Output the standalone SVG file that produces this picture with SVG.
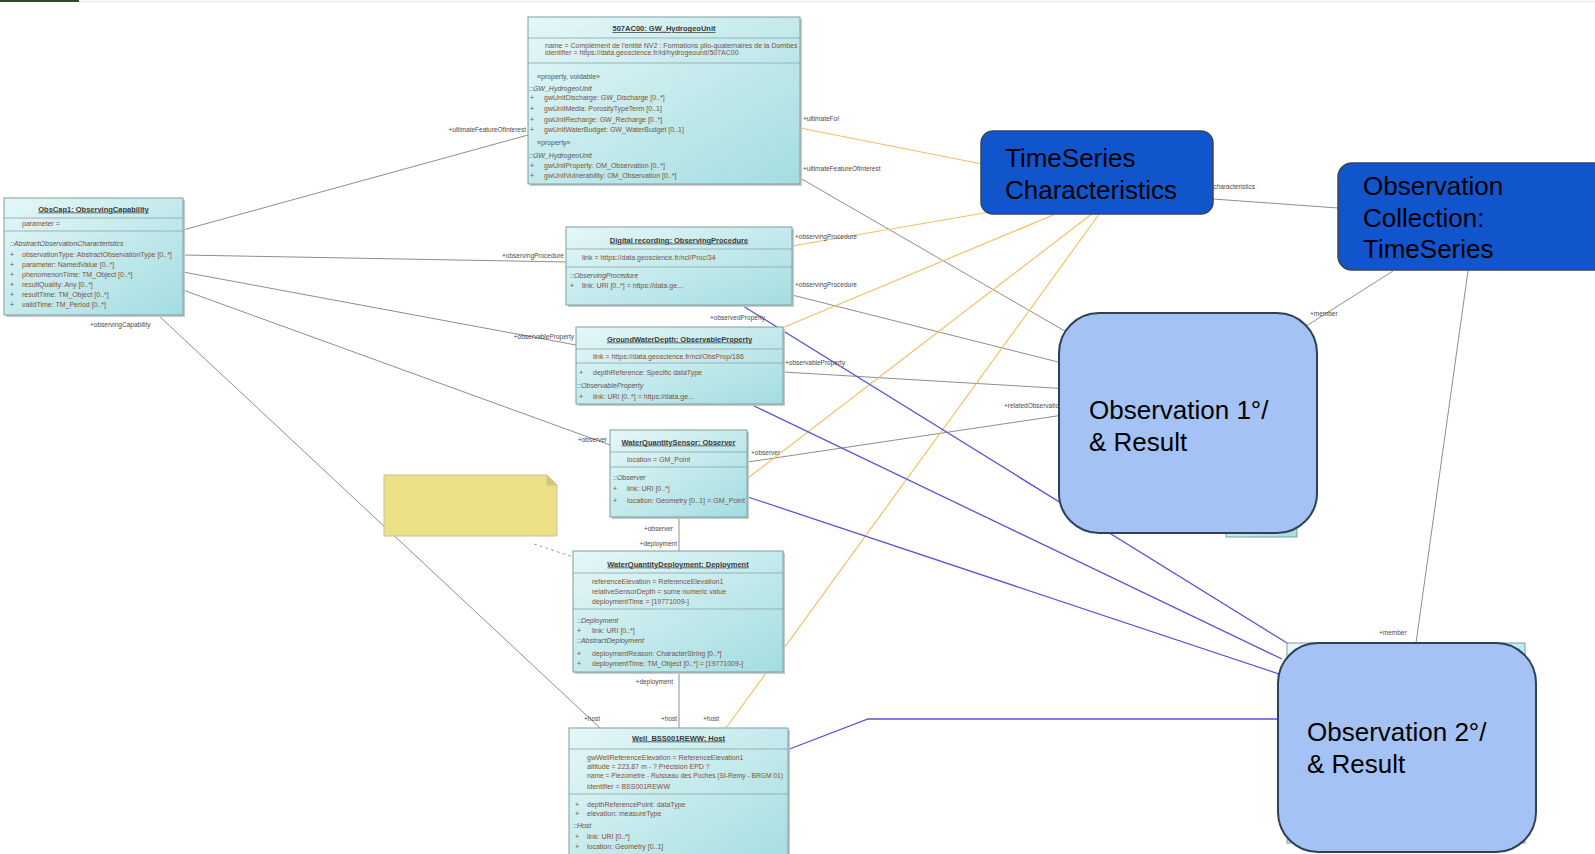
<svg xmlns="http://www.w3.org/2000/svg" width="1595" height="854" viewBox="0 0 1595 854">
<defs>
<linearGradient id="cy" x1="0" y1="0" x2="1" y2="1">
<stop offset="0" stop-color="#e6f7f8"/>
<stop offset="1" stop-color="#a3dde1"/>
</linearGradient>
<style>
.box{fill:url(#cy);stroke:#7f9ea0;stroke-width:1}
.sh{fill:#c4c9c9}
.sep{stroke:#8aa5a7;stroke-width:0.8}
text{font-family:"Liberation Sans",Arial,sans-serif}
.t{font-size:7.5px;font-weight:bold;fill:#3a3a3a;text-decoration:underline;text-anchor:middle}
.a{font-size:7px;fill:#7d5240}
.i{font-size:7px;fill:#555;font-style:italic}
.s{font-size:7px;fill:#555}
.l{font-size:6.5px;fill:#4a4a4a}
.e{text-anchor:end}
.g{stroke:#8e8e8e;stroke-width:1;fill:none}
.o{stroke:#f5c062;stroke-width:1.2;fill:none}
.b{stroke:#5656d8;stroke-width:1.3;fill:none}
.dk{fill:#1155cc;stroke:#34475f;stroke-width:1.5}
.lt{fill:#a4c2f4;stroke:#2f4058;stroke-width:2}
.big{font-size:26px;fill:#000}
</style>
</defs>
<rect width="1595" height="854" fill="#ffffff"/>
<rect x="0" y="0" width="79" height="2" fill="#2f4a2a"/>
<line x1="79" y1="1.5" x2="1595" y2="1.5" stroke="#ececec" stroke-width="1.5"/>

<g id="connectors">
<line class="g" x1="183" y1="230" x2="528" y2="135"/>
<line class="g" x1="183" y1="255" x2="566" y2="262"/>
<line class="g" x1="183" y1="272" x2="576" y2="345"/>
<line class="g" x1="183" y1="290" x2="610" y2="445"/>
<line class="g" x1="158" y1="315" x2="600" y2="728"/>
<line class="g" x1="679" y1="517" x2="679" y2="551"/>
<line class="g" x1="679" y1="672" x2="679" y2="728"/>
<line x1="534" y1="544" x2="573" y2="557" stroke="#a0a0a0" stroke-width="1" stroke-dasharray="3,3"/>
<line class="g" x1="800" y1="178" x2="1070" y2="334"/>
<line class="g" x1="792" y1="295" x2="1070" y2="365"/>
<line class="g" x1="783" y1="372" x2="1070" y2="389"/>
<line class="g" x1="748" y1="462" x2="1070" y2="414"/>
<line class="g" x1="1213" y1="199" x2="1338" y2="208"/>
<line class="g" x1="1393" y1="271" x2="1300" y2="330"/>
<line class="g" x1="1468" y1="271" x2="1416" y2="643"/>
<line class="o" x1="800" y1="128" x2="982" y2="164"/>
<line class="o" x1="792" y1="246" x2="990" y2="212"/>
<line class="o" x1="782" y1="328" x2="1058" y2="213"/>
<line class="o" x1="748" y1="478" x2="1093" y2="213"/>
<line class="o" x1="726" y1="728" x2="1100" y2="213"/>
<line class="b" x1="743" y1="306" x2="1287" y2="643"/>
<line class="b" x1="752" y1="405" x2="1282" y2="659"/>
<line class="b" x1="748" y1="497" x2="1279" y2="674"/>
<polyline class="b" points="787,750 868,719 1280,719"/>
<text class="l e" x="526" y="132">+ultimateFeatureOfInterest</text>
<text class="l e" x="564" y="258">+observingProcedure</text>
<text class="l e" x="574" y="339">+observableProperty</text>
<text class="l e" x="607" y="442">+observer</text>
<text class="l" x="90" y="327">+observingCapability</text>
<text class="l" x="584" y="721">+host</text>
<text class="l e" x="673" y="531">+observer</text>
<text class="l e" x="677" y="546">+deployment</text>
<text class="l e" x="673" y="684">+deployment</text>
<text class="l e" x="677" y="721">+host</text>
<text class="l" x="703" y="721">+host</text>
<text class="l" x="803" y="121">+ultimateFoI</text>
<text class="l" x="803" y="171">+ultimateFeatureOfInterest</text>
<text class="l" x="795" y="239">+observingProcedure</text>
<text class="l" x="795" y="287">+observingProcedure</text>
<text class="l" x="785" y="365">+observableProperty</text>
<text class="l" x="751" y="455">+observer</text>
<text class="l" x="1004" y="408">+relatedObservation</text>
<text class="l" x="710" y="320">+observedProperty</text>
<text class="l e" x="1255" y="189">+characteristics</text>
<text class="l" x="1310" y="316">+member</text>
<text class="l" x="1379" y="635">+member</text>
</g>

<g id="hydrogeoUnit">
<rect class="sh" x="530" y="19" width="272" height="167"/>
<rect class="box" x="528" y="17" width="272" height="167"/>
<line class="sep" x1="528" y1="38" x2="800" y2="38"/>
<line class="sep" x1="528" y1="63" x2="800" y2="63"/>
<text class="t" x="664" y="31">507AC00: GW_HydrogeoUnit</text>
<text class="a" x="545" y="47.5">name = Complément de l'entité NV2 : Formations plio-quaternaires de la Dombes</text>
<text class="a" x="545" y="55">identifier = https://data.geoscience.fr/id/hydrogeounit/507AC00</text>
<text class="s" x="537" y="78.5">«property, voidable»</text>
<text class="i" x="529" y="90.5">::GW_HydrogeoUnit</text>
<text class="s" x="530" y="100">+</text><text class="a" x="544" y="100">gwUnitDischarge: GW_Discharge [0..*]</text>
<text class="s" x="530" y="111">+</text><text class="a" x="544" y="111">gwUnitMedia: PorosityTypeTerm [0..1]</text>
<text class="s" x="530" y="122">+</text><text class="a" x="544" y="122">gwUnitRecharge: GW_Recharge [0..*]</text>
<text class="s" x="530" y="132">+</text><text class="a" x="544" y="132">gwUnitWaterBudget: GW_WaterBudget [0..1]</text>
<text class="s" x="537" y="145">«property»</text>
<text class="i" x="529" y="157.5">::GW_HydrogeoUnit</text>
<text class="s" x="530" y="167.5">+</text><text class="a" x="544" y="167.5">gwUnitProperty: OM_Observation [0..*]</text>
<text class="s" x="530" y="177.5">+</text><text class="a" x="544" y="177.5">gwUnitVulnerability: OM_Observation [0..*]</text>
</g>

<g id="obsCap1">
<rect class="sh" x="6" y="200" width="179" height="117"/>
<rect class="box" x="4" y="198" width="179" height="117"/>
<line class="sep" x1="4" y1="218" x2="183" y2="218"/>
<line class="sep" x1="4" y1="231" x2="183" y2="231"/>
<text class="t" x="93.5" y="211.5">ObsCap1: ObservingCapability</text>
<text class="a" x="22" y="225.5">parameter =</text>
<text class="i" x="10" y="245.5">::AbstractObservationCharacteristics</text>
<text class="s" x="10" y="256.5">+</text><text class="a" x="22" y="256.5">observationType: AbstractObservationType [0..*]</text>
<text class="s" x="10" y="266.5">+</text><text class="a" x="22" y="266.5">parameter: NamedValue [0..*]</text>
<text class="s" x="10" y="276.5">+</text><text class="a" x="22" y="276.5">phenomenonTime: TM_Object [0..*]</text>
<text class="s" x="10" y="286.5">+</text><text class="a" x="22" y="286.5">resultQuality: Any [0..*]</text>
<text class="s" x="10" y="296.5">+</text><text class="a" x="22" y="296.5">resultTime: TM_Object [0..*]</text>
<text class="s" x="10" y="307">+</text><text class="a" x="22" y="307">validTime: TM_Period [0..*]</text>
</g>

<g id="digitalRecording">
<rect class="sh" x="568" y="229" width="226" height="78"/>
<rect class="box" x="566" y="227" width="226" height="78"/>
<line class="sep" x1="566" y1="249" x2="792" y2="249"/>
<line class="sep" x1="566" y1="267" x2="792" y2="267"/>
<text class="t" x="679" y="242.5">Digital recording: ObservingProcedure</text>
<text class="a" x="582" y="259.5">link = https://data.geoscience.fr/ncl/Proc/34</text>
<text class="i" x="570" y="277.5">::ObservingProcedure</text>
<text class="s" x="570" y="287.5">+</text><text class="a" x="582" y="287.5">link: URI [0..*] = https://data.ge...</text>
</g>

<g id="groundWaterDepth">
<rect class="sh" x="578" y="329" width="207" height="77"/>
<rect class="box" x="576" y="327" width="207" height="77"/>
<line class="sep" x1="576" y1="349" x2="783" y2="349"/>
<line class="sep" x1="576" y1="363" x2="783" y2="363"/>
<text class="t" x="679.5" y="341.5">GroundWaterDepth: ObservableProperty</text>
<text class="a" x="593" y="358.5">link = https://data.geoscience.fr/ncl/ObsProp/186</text>
<text class="s" x="579" y="374.5">+</text><text class="a" x="593" y="374.5">depthReference: Specific dataType</text>
<text class="i" x="577" y="387.5">::ObservableProperty</text>
<text class="s" x="579" y="398.5">+</text><text class="a" x="593" y="398.5">link: URI [0..*] = https://data.ge...</text>
</g>

<g id="sensor">
<rect class="sh" x="612" y="432" width="137" height="87"/>
<rect class="box" x="610" y="430" width="137" height="87"/>
<line class="sep" x1="610" y1="452" x2="747" y2="452"/>
<line class="sep" x1="610" y1="467" x2="747" y2="467"/>
<text class="t" x="678.5" y="444.5">WaterQuantitySensor: Observer</text>
<text class="a" x="627" y="461.5">location = GM_Point</text>
<text class="i" x="613" y="479.5">::Observer</text>
<text class="s" x="613" y="490.5">+</text><text class="a" x="627" y="490.5">link: URI [0..*]</text>
<text class="s" x="613" y="502.5">+</text><text class="a" x="627" y="502.5" textLength="118" lengthAdjust="spacingAndGlyphs">location: Geometry [0..1] = GM_Point</text>
</g>

<g id="deployment">
<rect class="sh" x="575" y="553" width="210" height="121"/>
<rect class="box" x="573" y="551" width="210" height="121"/>
<line class="sep" x1="573" y1="573" x2="783" y2="573"/>
<line class="sep" x1="573" y1="609" x2="783" y2="609"/>
<text class="t" x="678" y="566.5">WaterQuantityDeployment: Deployment</text>
<text class="a" x="592" y="583.5">referenceElevation = ReferenceElevation1</text>
<text class="a" x="592" y="593.5">relativeSensorDepth = some numeric value</text>
<text class="a" x="592" y="603.5">deploymentTime = [19771009-]</text>
<text class="i" x="577" y="622.5">::Deployment</text>
<text class="s" x="577" y="632.5">+</text><text class="a" x="592" y="632.5">link: URI [0..*]</text>
<text class="i" x="577" y="642.5">::AbstractDeployment</text>
<text class="s" x="577" y="655.5">+</text><text class="a" x="592" y="655.5">deploymentReason: CharacterString [0..*]</text>
<text class="s" x="577" y="665.5">+</text><text class="a" x="592" y="665.5">deploymentTime: TM_Object [0..*] = [19771009-]</text>
</g>

<g id="well">
<rect class="sh" x="571" y="730" width="219" height="140"/>
<rect class="box" x="569" y="728" width="219" height="140"/>
<line class="sep" x1="569" y1="749" x2="788" y2="749"/>
<line class="sep" x1="569" y1="794" x2="788" y2="794"/>
<text class="t" x="678.5" y="740.5">Well_BSS001REWW: Host</text>
<text class="a" x="587" y="759.5">gwWellReferenceElevation = ReferenceElevation1</text>
<text class="a" x="587" y="768.5">altitude = 223,87 m - ? Précision EPD ?</text>
<text class="a" x="587" y="777.5" textLength="196" lengthAdjust="spacingAndGlyphs">name = Piezometre - Ruisseau des Poches (St-Remy - BRGM 01)</text>
<text class="a" x="587" y="788.5">identifier = BSS001REWW</text>
<text class="s" x="575" y="806.5">+</text><text class="a" x="587" y="806.5">depthReferencePoint: dataType</text>
<text class="s" x="575" y="815.5">+</text><text class="a" x="587" y="815.5">elevation: measureType</text>
<text class="i" x="573" y="827.5">::Host</text>
<text class="s" x="575" y="838.5">+</text><text class="a" x="587" y="838.5">link: URI [0..*]</text>
<text class="s" x="575" y="848.5">+</text><text class="a" x="587" y="848.5">location: Geometry [0..1]</text>
</g>

<g id="note">
<polygon points="384,475 547,475 557,485 557,536 384,536" fill="#ebe085" stroke="#c9c29a" stroke-width="1"/>
<polygon points="547,475 547,485 557,485" fill="#d4c76c" stroke="#c9c29a" stroke-width="0.8"/>
</g>

<g id="hiddenBoxes">
<rect class="box" x="1226" y="480" width="71" height="57"/>
<rect class="box" x="1287" y="643" width="238" height="200"/>
</g>

<g id="timeSeriesCharacteristics">
<rect class="dk" x="981" y="131" width="232" height="83" rx="12"/>
<text class="big" x="1005" y="167">TimeSeries</text>
<text class="big" x="1005" y="199">Characteristics</text>
</g>

<g id="observationCollection">
<rect class="dk" x="1338" y="163" width="280" height="107" rx="14"/>
<text class="big" x="1363" y="195">Observation</text>
<text class="big" x="1363" y="227">Collection:</text>
<text class="big" x="1363" y="258">TimeSeries</text>
</g>

<g id="observation1">
<rect class="lt" x="1059" y="313" width="258" height="220" rx="40"/>
<text class="big" x="1089" y="419">Observation 1°/</text>
<text class="big" x="1089" y="451">&amp; Result</text>
</g>

<g id="observation2">
<rect class="lt" x="1278" y="643" width="258" height="209" rx="40"/>
<text class="big" x="1307" y="741">Observation 2°/</text>
<text class="big" x="1307" y="773">&amp; Result</text>
</g>
</svg>
